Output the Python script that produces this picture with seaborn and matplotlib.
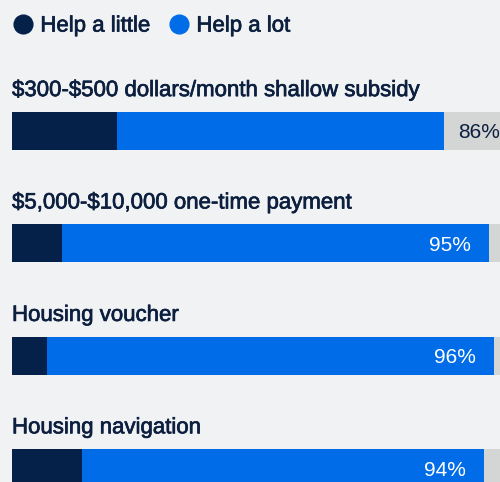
import matplotlib
matplotlib.use("Agg")
import matplotlib.pyplot as plt
import matplotlib.patheffects as pe
from matplotlib.lines import Line2D
import pandas as pd
import seaborn as sns

# Survey results: share of respondents saying each program would help
programs = [
    "$300-$500 dollars/month shallow subsidy",
    "$5,000-$10,000 one-time payment",
    "Housing voucher",
    "Housing navigation",
]
help_little = [21, 10, 7, 14]
help_lot = [65, 85, 89, 80]
totals = [86, 95, 96, 94]

BG = "#f1f2f4"
DARK = "#05214a"
BLUE = "#006ce8"
GREY = "#d4d5d5"
TEXT = "#0c1f3f"

sns.set_theme(style="white")
plt.rcParams["font.family"] = ["Liberation Sans", "DejaVu Sans"]
plt.rcParams["text.parse_math"] = False

df = pd.DataFrame({
    "program": programs,
    "little": help_little,
    "lot": help_lot,
    "total": totals,
})
df["stack"] = df["little"] + df["lot"]
df["full"] = 100

fig = plt.figure(figsize=(5.0, 4.82), dpi=100, facecolor=BG)
ax = fig.add_axes([0, 0, 1, 1])
ax.set_facecolor(BG)

bar_w = 0.338
sns.barplot(data=df, x="full", y="program", orient="h", color=GREY,
            width=bar_w, linewidth=0, saturation=1, ax=ax)
sns.barplot(data=df, x="stack", y="program", orient="h", color=BLUE,
            width=bar_w, linewidth=0, saturation=1, ax=ax)
sns.barplot(data=df, x="little", y="program", orient="h", color=DARK,
            width=bar_w, linewidth=0, saturation=1, ax=ax)

ax.set_xlim(-2.39, 97.2)
ax.set_ylim(3.123, -1.165)
ax.set_axis_off()

# slightly heavier strokes for a medium-weight look
medium = [pe.withStroke(linewidth=0.5, foreground=TEXT)]

fs_title = 16
fs_val = 15
for i, row in df.iterrows():
    ax.text(0, i - 0.31, row["program"], ha="left", va="baseline",
            fontsize=fs_title, color=TEXT, path_effects=medium)
    remaining = 100 - row["stack"]
    label = f"{row['total']}%"
    if remaining > 10:
        ax.text(row["stack"] + 2.8, i, label, ha="left", va="center_baseline",
                fontsize=fs_val, color=TEXT)
    else:
        ax.text(row["stack"] - 3.6, i, label, ha="right", va="center_baseline",
                fontsize=fs_val, color="white")

handles = [
    Line2D([], [], marker="o", ls="", markersize=13.5, color=DARK),
    Line2D([], [], marker="o", ls="", markersize=13.5, color=BLUE),
]
leg = ax.legend(handles, ["Help a little", "Help a lot"], ncol=2,
                loc="upper left", bbox_to_anchor=(-0.006, 1.0),
                frameon=False, prop={"size": fs_title},
                handletextpad=0.3, columnspacing=0.8, handlelength=0.95,
                borderaxespad=0.3)
for t in leg.get_texts():
    t.set_color(TEXT)
    t.set_path_effects(medium)

fig.savefig("out.png", dpi=100, facecolor=BG)
